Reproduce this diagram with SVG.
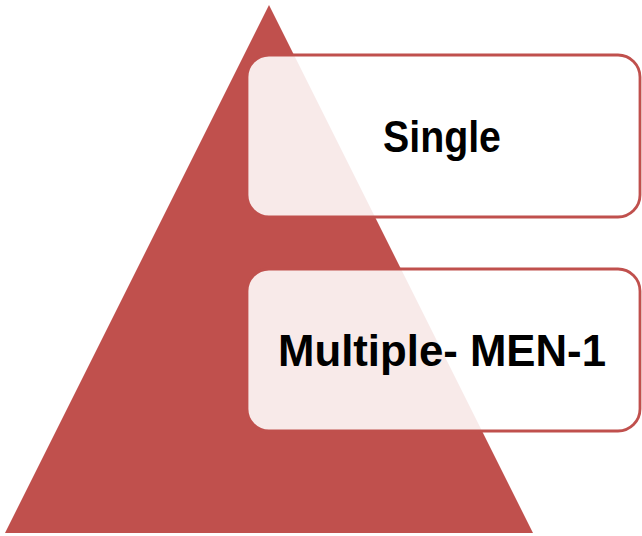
<svg xmlns="http://www.w3.org/2000/svg" width="642" height="536" viewBox="0 0 642 536">
<style>
.box{fill:#ffffff;fill-opacity:0.88;stroke:#C0504D;stroke-width:2.8}
.lbl{font-family:"Liberation Sans",Arial,sans-serif;font-weight:bold;font-size:44px;fill:#000;text-anchor:middle}
</style>
<rect width="642" height="536" fill="#ffffff"/>
<g id="pyramid"><polygon points="269,5 533,533 5,533" fill="#C0504D"/></g>
<g id="connectors"></g>
<g id="single">
<rect class="box" x="247" y="55" width="393" height="162" rx="22"/>
<text class="lbl" x="442" y="152" textLength="118" lengthAdjust="spacingAndGlyphs">Single</text>
</g>
<g id="multiple">
<rect class="box" x="247" y="269" width="393" height="162" rx="22"/>
<text class="lbl" x="442" y="366" textLength="328" lengthAdjust="spacingAndGlyphs">Multiple- MEN-1</text>
</g>
</svg>
